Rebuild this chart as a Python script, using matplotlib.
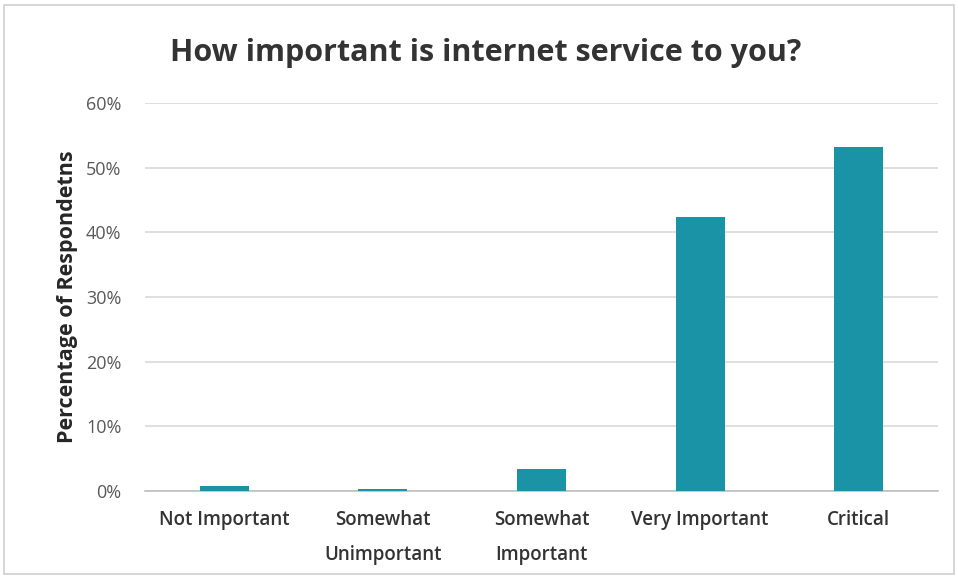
import matplotlib
matplotlib.use("Agg")
import matplotlib.pyplot as plt
from matplotlib.patches import Rectangle
from matplotlib.ticker import FuncFormatter

categories = ["Not Important", "Somewhat\nUnimportant", "Somewhat\nImportant",
              "Very Important", "Critical"]
values = [0.7, 0.35, 3.4, 42.3, 53.2]
yticks = [0, 10, 20, 30, 40, 50, 60]

plt.rcParams['font.family'] = ['Open Sans', 'DejaVu Sans']

W, H = 958, 577
fig = plt.figure(figsize=(W / 100, H / 100), dpi=100)
fig.patch.set_facecolor("white")

# outer frame
fig.patches.append(Rectangle((4 / W, 1 - 574 / H), 950 / W, 569 / H,
                             transform=fig.transFigure, fill=False,
                             edgecolor="#d0d0d0", linewidth=1.2))

left, right, top, bottom = 145, 938, 103, 491
ax = fig.add_axes([left / W, 1 - bottom / H, (right - left) / W, (bottom - top) / H])

x = list(range(len(categories)))
ax.bar(x, values, width=0.31, color="#1A93A6", zorder=3)

ax.set_xlim(-0.5, len(categories) - 0.5)
ax.set_ylim(0, 60)
ax.set_yticks(yticks)
ax.yaxis.set_major_formatter(FuncFormatter(lambda v, p: f"{v:.0f}%"))
ax.set_xticks(x)
ax.set_xticklabels(categories, fontsize=13.5, color="#333333", fontweight="semibold",
                   linespacing=1.95)
ax.tick_params(axis="y", labelsize=13, labelcolor="#595959", length=0, pad=17)
ax.tick_params(axis="x", length=0, pad=14)
for lab in ax.get_xticklabels():
    lab.set_verticalalignment("top")

ax.grid(axis="y", color="#d9d9d9", linewidth=1.2, zorder=0)
for s in ["top", "right", "left"]:
    ax.spines[s].set_visible(False)
ax.spines["bottom"].set_color("#bfbfbf")
ax.spines["bottom"].set_linewidth(1.2)
ax.set_facecolor("white")

ax.set_ylabel("Percentage of Respondetns", fontsize=15.5, fontweight="bold",
              color="#262626", labelpad=6)

fig.text(486 / W, 1 - 53 / H, "How important is internet service to you?",
         ha="center", va="center", fontsize=22, fontweight="bold", color="#333333")

fig.savefig("out.png", dpi=100, facecolor="white")
